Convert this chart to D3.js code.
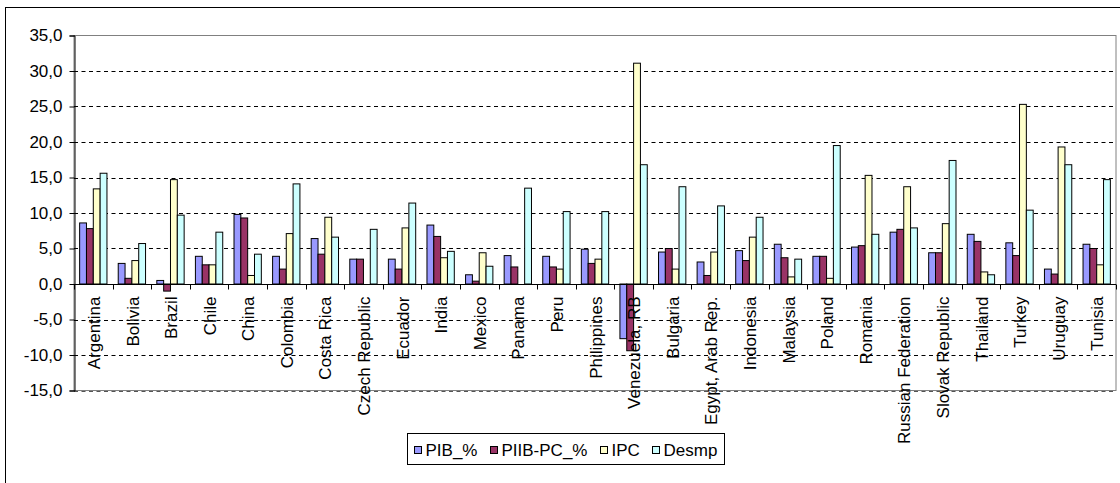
<!DOCTYPE html>
<html>
<head>
<meta charset="utf-8">
<script src="https://cdn.jsdelivr.net/npm/d3@7/dist/d3.min.js"></script>
<style>
  html, body { margin: 0; padding: 0; background: #fff; }
  svg { display: block; }
  text { font-family: "Liberation Sans", Arial, sans-serif; fill: #000; }
</style>
</head>
<body>
<svg id="chart" width="1120" height="483"></svg>
<script>
// Country categories along the x axis
const countries = [
  "Argentina", "Bolivia", "Brazil", "Chile", "China", "Colombia", "Costa Rica",
  "Czech Republic", "Ecuador", "India", "Mexico", "Panama", "Peru", "Philippines",
  "Venezuela, RB", "Bulgaria", "Egypt, Arab Rep.", "Indonesia", "Malaysia", "Poland",
  "Romania", "Russian Federation", "Slovak Republic", "Thailand", "Turkey", "Uruguay", "Tunisia"
];

// Series values, one per country (null = no value)
const pib    = [8.6, 2.9, 0.5, 3.9, 9.8, 3.9, 6.4, 3.5, 3.5, 8.3, 1.3, 4.0, 3.9, 4.9, -7.7, 4.5, 3.1, 4.7, 5.6, 3.9, 5.2, 7.3, 4.4, 7.0, 5.8, 2.1, 5.6];
const piibPc = [7.8, 0.8, -1.0, 2.7, 9.3, 2.1, 4.2, 3.5, 2.1, 6.7, 0.4, 2.4, 2.4, 2.9, -9.4, 5.0, 1.2, 3.3, 3.7, 3.9, 5.4, 7.7, 4.4, 6.0, 4.0, 1.4, 5.0];
const ipc    = [13.4, 3.3, 14.7, 2.7, 1.2, 7.1, 9.4, null, 7.9, 3.7, 4.4, null, 2.1, 3.5, 31.1, 2.1, 4.5, 6.6, 1.0, 0.8, 15.3, 13.7, 8.5, 1.7, 25.3, 19.3, 2.7];
const desmp  = [15.6, 5.7, 9.7, 7.3, 4.2, 14.1, 6.6, 7.7, 11.4, 4.6, 2.5, 13.5, 10.2, 10.2, 16.8, 13.7, 11.0, 9.4, 3.5, 19.5, 7.0, 7.9, 17.4, 1.3, 10.4, 16.8, 14.7];

// Series names (legend) and y-axis tick values
const seriesNames = ["PIB_%", "PIIB-PC_%", "IPC", "Desmp"];
const yTicks = [-15, -10, -5, 0, 5, 10, 15, 20, 25, 30, 35];

const series = [
  { name: seriesNames[0], values: pib,    color: "#9999FF" },
  { name: seriesNames[1], values: piibPc, color: "#993366" },
  { name: seriesNames[2], values: ipc,    color: "#FFFFCC" },
  { name: seriesNames[3], values: desmp,  color: "#CCFFFF" }
];

const FONT = 17;
const locale = d3.formatLocale({ decimal: ",", thousands: ".", grouping: [3], currency: ["", ""], minus: "-" });
const fmt = locale.format(".1f");

const svg = d3.select("#chart");

// Outer chart frame (extends past the right and bottom edges)
svg.append("rect")
  .attr("x", 5.5).attr("y", 7.5)
  .attr("width", 1140).attr("height", 500)
  .attr("fill", "#fff").attr("stroke", "#000").attr("stroke-width", 1);

const plot = { left: 74, right: 1116, top: 35.5, bottom: 390.5 };

const y = d3.scaleLinear().domain([-15, 35]).range([plot.bottom, plot.top]);
const x0 = d3.scaleBand().domain(countries).range([plot.left, plot.right]).padding(0);
const bw = x0.bandwidth();
const x1 = d3.scaleBand().domain(seriesNames).range([bw * 0.146, bw * 0.854]).padding(0);

// Plot area border
svg.append("rect")
  .attr("x", plot.left).attr("y", plot.top)
  .attr("width", plot.right - plot.left).attr("height", plot.bottom - plot.top)
  .attr("fill", "#fff").attr("stroke", "#808080").attr("stroke-width", 1);

// Dashed horizontal gridlines
svg.append("g").selectAll("line")
  .data(yTicks.filter(v => v !== 0 && v !== 35))
  .join("line")
  .attr("x1", plot.left).attr("x2", plot.right)
  .attr("y1", d => Math.round(y(d)) + 0.5).attr("y2", d => Math.round(y(d)) + 0.5)
  .attr("stroke", d => d === -15 ? "#555" : "#000")
  .attr("stroke-width", 1)
  .attr("stroke-dasharray", "4,3.5");

// Bars
const groups = svg.append("g").selectAll("g")
  .data(countries)
  .join("g")
  .attr("transform", d => `translate(${x0(d)},0)`);

groups.selectAll("rect")
  .data((c, i) => series
    .filter(s => s.values[i] !== null)
    .map(s => ({ name: s.name, value: s.values[i], color: s.color })))
  .join("rect")
  .attr("x", d => x1(d.name))
  .attr("width", x1.bandwidth())
  .attr("y", d => y(Math.max(0, d.value)))
  .attr("height", d => Math.abs(y(d.value) - y(0)))
  .attr("fill", d => d.color)
  .attr("stroke", "#000")
  .attr("stroke-width", 1);

// Y axis
const yAxis = d3.axisLeft(y).tickValues(yTicks).tickFormat(fmt).tickSize(5).tickPadding(7);
const yG = svg.append("g")
  .attr("transform", `translate(${plot.left + 0.5},0)`)
  .call(yAxis);
yG.select(".domain").attr("stroke", "#000");
yG.selectAll(".tick line").attr("stroke", "#000");
yG.selectAll(".tick text")
  .attr("font-size", FONT)
  .attr("font-family", "'Liberation Sans', Arial, sans-serif")
  .attr("fill", "#000");

// X axis along the zero line with ticks between categories
const zeroY = Math.round(y(0)) + 0.5;
svg.append("line")
  .attr("x1", plot.left).attr("x2", plot.right)
  .attr("y1", zeroY).attr("y2", zeroY)
  .attr("stroke", "#000").attr("stroke-width", 1);

const boundaries = d3.range(countries.length + 1).map(i => plot.left + i * bw);
svg.append("g").selectAll("line")
  .data(boundaries)
  .join("line")
  .attr("x1", d => Math.round(d) + 0.5).attr("x2", d => Math.round(d) + 0.5)
  .attr("y1", zeroY).attr("y2", zeroY + 5)
  .attr("stroke", "#000").attr("stroke-width", 1);

// Rotated category labels
svg.append("g").selectAll("text")
  .data(countries)
  .join("text")
  .attr("transform", d => `translate(${x0(d) + bw / 2 + 0.5},${zeroY + 12}) rotate(-90)`)
  .attr("text-anchor", "end")
  .attr("dy", "0.36em")
  .attr("font-size", FONT)
  .text(d => d);

// Legend
const legendCx = 565.5, legendCy = 449.5;
const legend = svg.append("g");
const box = legend.append("rect")
  .attr("fill", "#fff").attr("stroke", "#000").attr("stroke-width", 1);

const items = legend.selectAll("g.item")
  .data(series)
  .join("g").attr("class", "item");

items.append("rect")
  .attr("width", 7).attr("height", 7)
  .attr("fill", d => d.color)
  .attr("stroke", "#000").attr("stroke-width", 1);
items.append("text")
  .attr("x", 11)
  .attr("y", 3.5)
  .attr("dy", "0.36em")
  .attr("font-size", FONT)
  .text(d => d.name);

let cursor = 0;
const positions = [];
items.each(function () {
  const w = d3.select(this).select("text").node().getComputedTextLength();
  positions.push(cursor);
  cursor += 11 + w + 13;
});
const totalW = cursor - 13;
const startX = legendCx - totalW / 2;
items.attr("transform", (d, i) => `translate(${Math.round(startX + positions[i]) + 0.5},${Math.round(legendCy - 3.5) + 0.5})`);

box.attr("x", Math.round(startX - 7) + 0.5)
  .attr("y", 433.5)
  .attr("width", Math.round(totalW + 14))
  .attr("height", 31);
</script>
</body>
</html>
